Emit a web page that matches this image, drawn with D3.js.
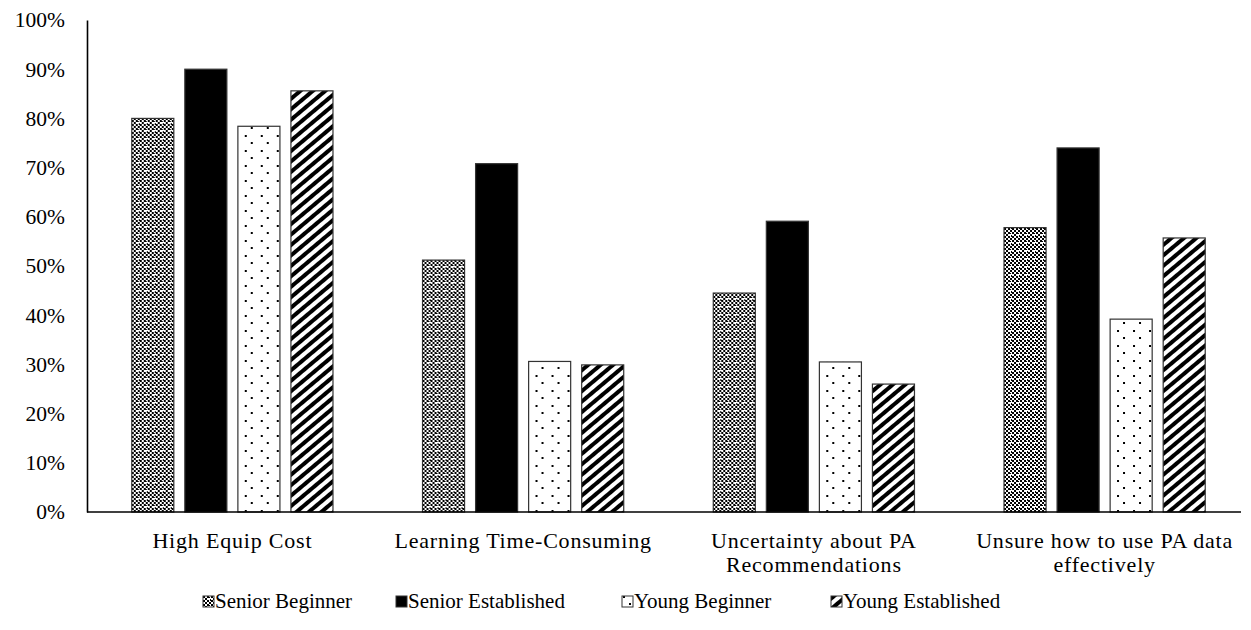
<!DOCTYPE html>
<html>
<head>
<meta charset="utf-8">
<script src="https://cdn.jsdelivr.net/npm/d3@7"></script>
<style>
  body { margin: 0; background: #fff; }
  svg { display: block; font-family: "Liberation Serif", "Times New Roman", serif; }
</style>
</head>
<body>
<svg id="chart" width="1251" height="630"></svg>
<script>
// Barriers to precision agriculture adoption, share of respondents by group
const categories = [
  ["High Equip Cost"],
  ["Learning Time-Consuming"],
  ["Uncertainty about PA", "Recommendations"],
  ["Unsure how to use PA data", "effectively"]
];
const seriesNames = ["Senior Beginner", "Senior Established", "Young Beginner", "Young Established"];
const seniorBeginner    = [0.80, 0.512, 0.445, 0.578];
const seniorEstablished = [0.90, 0.708, 0.591, 0.740];
const youngBeginner     = [0.784, 0.306, 0.305, 0.392];
const youngEstablished  = [0.856, 0.299, 0.260, 0.557];
const yTicks = [0, 0.1, 0.2, 0.3, 0.4, 0.5, 0.6, 0.7, 0.8, 0.9, 1.0];

const seriesValues = [seniorBeginner, seniorEstablished, youngBeginner, youngEstablished];
const fills = ["url(#pat-check)", "#000", "url(#pat-dots)", "url(#pat-stripe)"];

const svg = d3.select("#chart");
const margin = { left: 87, right: 1, top: 20, bottom: 118 };
const W = 1251, H = 630;
const plotW = W - margin.left - margin.right;
const plotH = H - margin.top - margin.bottom;

// ---- fill patterns ----
const defs = svg.append("defs");

// small checker lattice
const pc = defs.append("pattern").attr("id", "pat-check")
  .attr("patternUnits", "userSpaceOnUse").attr("width", 8).attr("height", 8);
pc.append("rect").attr("width", 8).attr("height", 8).attr("fill", "#fff");
[[0,0],[4,0],[2,2],[0,4],[4,4],[2,6],[6,6]].forEach(([x, y]) => {
  pc.append("rect").attr("x", x).attr("y", y).attr("width", 2).attr("height", 2)
    .attr("fill", "#000").attr("shape-rendering", "crispEdges");
});
pc.append("rect").attr("x", 7).attr("y", 3).attr("width", 1).attr("height", 2)
  .attr("fill", "#000").attr("shape-rendering", "crispEdges");
pc.append("rect").attr("x", 5).attr("y", 1).attr("width", 2).attr("height", 1)
  .attr("fill", "#000").attr("shape-rendering", "crispEdges");

// sparse staggered dots
const pd = defs.append("pattern").attr("id", "pat-dots")
  .attr("patternUnits", "userSpaceOnUse").attr("width", 16).attr("height", 15);
pd.append("rect").attr("width", 16).attr("height", 15).attr("fill", "#fff");
pd.append("rect").attr("x", 1).attr("y", 0).attr("width", 2).attr("height", 2)
  .attr("fill", "#000").attr("shape-rendering", "crispEdges");
pd.append("rect").attr("x", 7).attr("y", 7).attr("width", 2).attr("height", 2)
  .attr("fill", "#000").attr("shape-rendering", "crispEdges");

// wide upward diagonal stripes
const ps = defs.append("pattern").attr("id", "pat-stripe")
  .attr("patternUnits", "userSpaceOnUse").attr("width", 8).attr("height", 8)
  .attr("patternTransform", "rotate(-40)");
ps.append("rect").attr("width", 8).attr("height", 8).attr("fill", "#fff");
ps.append("rect").attr("x", 0).attr("y", 0).attr("width", 8).attr("height", 4).attr("fill", "#000");

// ---- scales ----
const x0 = d3.scaleBand().domain(d3.range(categories.length))
  .range([margin.left, margin.left + plotW]).paddingInner(0.308).paddingOuter(0.154);
const x1 = d3.scaleBand().domain(d3.range(seriesNames.length))
  .range([0, x0.bandwidth()]).paddingInner(0.2075).paddingOuter(0);
const y = d3.scaleLinear().domain([0, 1]).range([margin.top + plotH, margin.top]);

// ---- bars ----
const groups = svg.append("g").selectAll("g")
  .data(categories).join("g")
  .attr("transform", (d, i) => `translate(${x0(i)},0)`);

groups.each(function(cat, ci) {
  d3.select(this).selectAll("rect")
    .data(seriesValues.map((vals, si) => ({ si, v: vals[ci] })))
    .join("rect")
    .attr("x", d => x1(d.si))
    .attr("y", d => y(d.v))
    .attr("width", x1.bandwidth())
    .attr("height", d => y(0) - y(d.v))
    .attr("fill", d => fills[d.si])
    .attr("stroke", "#333")
    .attr("stroke-width", 1.2);
});

// ---- y axis ----
const yAxis = d3.axisLeft(y).tickValues(yTicks).tickSize(0).tickPadding(22)
  .tickFormat(d3.format(".0%"));
const gy = svg.append("g").attr("transform", `translate(${margin.left},0)`).call(yAxis);
gy.select(".domain").attr("stroke", "#000").attr("stroke-width", 1.6);
gy.selectAll("text").attr("font-size", 21.5).attr("fill", "#000")
  .attr("font-family", "Liberation Serif, serif");

// ---- x axis ----
const gx = svg.append("g").attr("transform", `translate(0,${y(0)})`);
gx.append("line").attr("x1", margin.left).attr("x2", 1241)
  .attr("stroke", "#000").attr("stroke-width", 1.6);
categories.forEach((lines, i) => {
  const cx = x0(i) + x0.bandwidth() / 2;
  const t = gx.append("text")
    .attr("x", cx)
    .attr("y", 36)
    .attr("text-anchor", "middle")
    .attr("font-size", 22).attr("letter-spacing", 0.8).attr("fill", "#000");
  lines.forEach((ln, li) => {
    t.append("tspan").attr("x", cx)
      .attr("dy", li === 0 ? 0 : 24).text(ln);
  });
});

// ---- legend ----
const legendX = [203, 396, 622, 831];
const legend = svg.append("g");
seriesNames.forEach((name, i) => {
  const g = legend.append("g").attr("transform", `translate(${legendX[i]},596)`);
  g.append("rect").attr("width", 11).attr("height", 11)
    .attr("fill", fills[i]).attr("stroke", "#333").attr("stroke-width", 1);
  g.append("text").attr("x", 12).attr("y", 12).attr("font-size", 21)
    .attr("fill", "#000").text(name);
});
</script>
</body>
</html>
